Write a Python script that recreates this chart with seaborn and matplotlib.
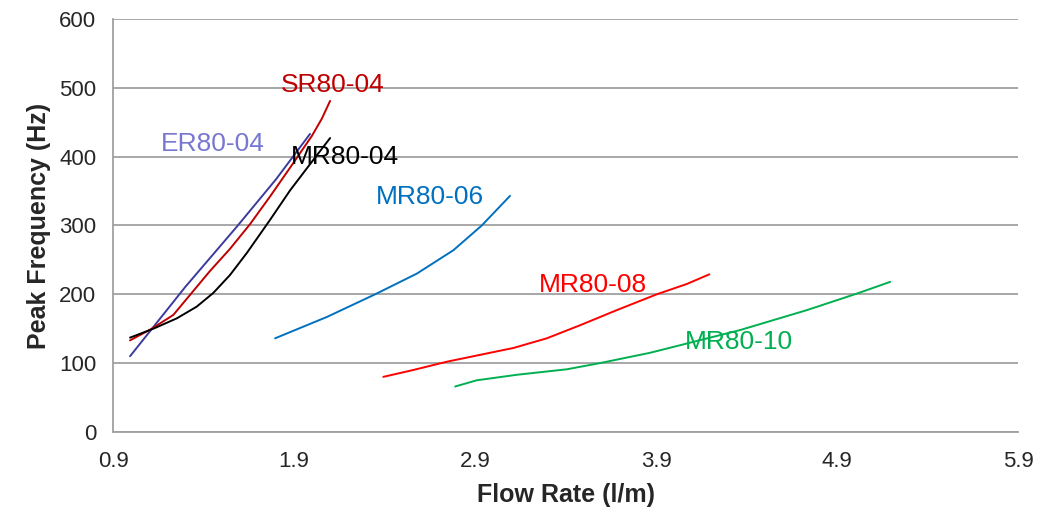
import matplotlib
matplotlib.use("Agg")
import matplotlib.pyplot as plt
import seaborn as sns
import pandas as pd

# Values
er_x = [0.994, 1.30, 1.583, 1.80, 1.988]
er_y = [110, 211, 298, 367, 433]

sr_x = [0.994, 1.114, 1.233, 1.325, 1.436, 1.546, 1.657, 1.767, 1.878, 1.998, 2.053, 2.099]
sr_y = [133, 150, 170, 199, 234, 266, 302, 342, 384, 430, 455, 481]

mr04_x = [0.994, 1.123, 1.252, 1.362, 1.454, 1.546, 1.639, 1.767, 1.878, 1.988, 2.099]
mr04_y = [137, 150, 165, 182, 202, 228, 260, 308, 351, 389, 427]

mr06_x = [1.795, 2.081, 2.348, 2.578, 2.78, 2.937, 3.093]
mr06_y = [136, 167, 200, 230, 264, 300, 343]

mr08_x = [2.393, 2.559, 2.744, 2.928, 3.112, 3.296, 3.48, 3.683, 3.904, 4.07, 4.194]
mr08_y = [80, 90, 102, 112, 122, 136, 155, 177, 200, 215, 229]

mr10_x = [2.79, 2.909, 3.13, 3.407, 3.59, 3.867, 4.364, 4.733, 5.009, 5.193]
mr10_y = [66, 75, 83, 91, 100, 115, 148, 177, 201, 218]

names = ["ER80-04", "SR80-04", "MR80-04", "MR80-06", "MR80-08", "MR80-10"]
line_colors = ["#3B3B9E", "#C00000", "#000000", "#0070C0", "#FF0000", "#00B050"]
label_colors = ["#7878D2", "#C00000", "#000000", "#0070C0", "#FF0000", "#00B050"]
label_x = [1.45, 2.115, 2.18, 2.65, 3.55, 4.36]
label_y = [419, 504, 400, 342, 214, 130]

xs = [er_x, sr_x, mr04_x, mr06_x, mr08_x, mr10_x]
ys = [er_y, sr_y, mr04_y, mr06_y, mr08_y, mr10_y]

sns.set_style("white")
plt.rcParams["font.family"] = ["Liberation Sans", "DejaVu Sans"]

fig, ax = plt.subplots(figsize=(10.4, 5.21), dpi=100)
fig.subplots_adjust(left=0.1087, right=0.979, top=0.9635, bottom=0.171)

for name, x, y, lc in zip(names, xs, ys, line_colors):
    df = pd.DataFrame({"x": x, "y": y})
    sns.lineplot(data=df, x="x", y="y", color=lc, linewidth=1.4, sort=False, ax=ax)

for name, tx, ty, tc in zip(names, label_x, label_y, label_colors):
    ax.text(tx, ty, name, color=tc, fontsize=19, ha="center", va="center")

ax.set_xlim(0.9, 5.9)
ax.set_ylim(0, 600)
ax.set_xticks([0.9, 1.9, 2.9, 3.9, 4.9, 5.9])
ax.set_xticklabels(["0.9", "1.9", "2.9", "3.9", "4.9", "5.9"])
ax.set_yticks([0, 100, 200, 300, 400, 500, 600])
ax.yaxis.grid(True, color="#A0A0A0", linewidth=1.3)
ax.set_axisbelow(True)
ax.tick_params(axis="x", length=0, pad=14, labelsize=16)
ax.tick_params(axis="y", length=0, pad=12, labelsize=16)

for side in ["top", "right"]:
    ax.spines[side].set_visible(False)
for side in ["left", "bottom"]:
    ax.spines[side].set_color("#A0A0A0")
    ax.spines[side].set_linewidth(1.3)

ax.set_xlabel("Flow Rate (l/m)", fontsize=18, fontweight="bold", labelpad=8)
ax.set_ylabel("Peak Frequency (Hz)", fontsize=18, fontweight="bold", labelpad=6)

plt.savefig("out.png", dpi=100)
